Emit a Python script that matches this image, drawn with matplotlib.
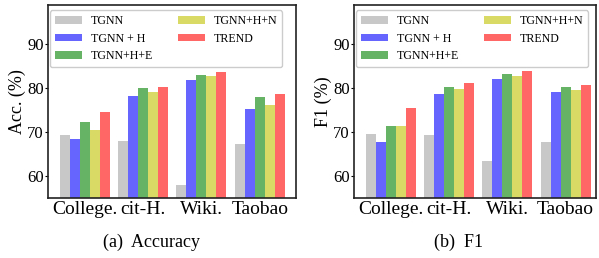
import numpy as np
import matplotlib.pyplot as plt

plt.rcParams['font.family'] = ['Liberation Serif', 'DejaVu Serif']

### data
datasets = ['College.', 'cit-H.', 'Wiki.', 'Taobao']
methods = ['TGNN', 'TGNN + H', 'TGNN+H+E', 'TGNN+H+N', 'TREND']
colors = ['#c8c8c8', '#6666ff', '#66b366', '#d9d966', '#ff6666']

acc_tgnn = [69.3, 67.9, 58.0, 67.2]
acc_h = [68.4, 78.3, 81.9, 75.4]
acc_he = [72.4, 80.1, 83.1, 78.1]
acc_hn = [70.6, 79.2, 82.8, 76.1]
acc_trend = [74.7, 80.3, 83.7, 78.6]

f1_tgnn = [69.5, 69.3, 63.4, 67.7]
f1_h = [67.7, 78.8, 82.2, 79.2]
f1_he = [71.5, 80.4, 83.3, 80.4]
f1_hn = [71.5, 79.9, 82.8, 79.7]
f1_trend = [75.6, 81.3, 84.0, 80.8]

panels = [
    ([acc_tgnn, acc_h, acc_he, acc_hn, acc_trend], 'Acc. (%)', '(a)  Accuracy'),
    ([f1_tgnn, f1_h, f1_he, f1_hn, f1_trend], 'F1 (%)', '(b)  F1'),
]

fig = plt.figure(figsize=(5.99, 2.58), dpi=100)
axes = [fig.add_axes([0.0801, 0.2326, 0.414, 0.748]),
        fig.add_axes([0.591, 0.2326, 0.404, 0.748])]
xlims = [(-0.63, 3.62), (-0.63, 3.52)]
caption_x = [0.253, 0.765]

x = np.arange(len(datasets))
width = 0.171

for ax, (series, ylabel, caption), xl, cx in zip(axes, panels, xlims, caption_x):
    for i, vals in enumerate(series):
        ax.bar(x + (i - 2) * width, vals, width, color=colors[i], label=methods[i])
    ax.set_xlim(*xl)
    ax.set_ylim(55, 99)
    ax.set_yticks([60, 70, 80, 90])
    ax.set_xticks(x)
    ax.set_xticklabels(datasets, fontsize=14)
    ax.tick_params(axis='y', labelsize=12, length=2, pad=1)
    ax.tick_params(axis='x', length=0, pad=2)
    ax.set_ylabel(ylabel, fontsize=13, labelpad=1)
    for s in ax.spines.values():
        s.set_linewidth(1.2)
        s.set_color('#222222')
    ax.legend(loc='upper left', bbox_to_anchor=(0.008, 0.972), borderaxespad=0,
              ncol=2, fontsize=8.6, handlelength=2.25,
              handleheight=0.6, handletextpad=0.75, columnspacing=2.1,
              labelspacing=0.47, framealpha=1,
              edgecolor='#cccccc', fancybox=True)
    fig.text(cx, 0.062, caption, ha='center', va='center', fontsize=13)

fig.savefig('out.png', dpi=100)
